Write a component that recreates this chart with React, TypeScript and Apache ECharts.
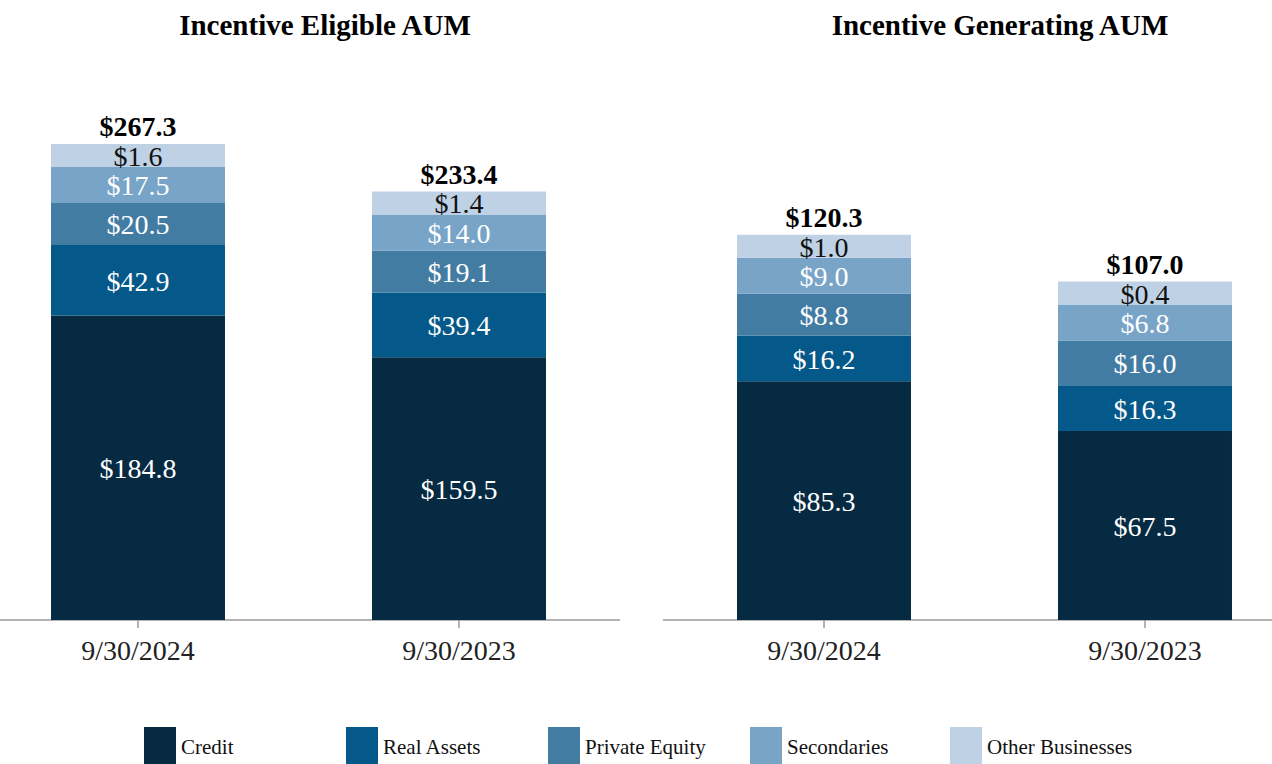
import React, { useEffect, useRef } from 'react';
import * as echarts from 'echarts';

// ---------- data ($ billions) ----------
const TITLES = ['Incentive Eligible AUM', 'Incentive Generating AUM'];
const DATES = ['9/30/2024', '9/30/2023'];
const SEGMENTS = ['Credit', 'Real Assets', 'Private Equity', 'Secondaries', 'Other Businesses'];

const ELIGIBLE_CREDIT = [184.8, 159.5];
const ELIGIBLE_REAL_ASSETS = [42.9, 39.4];
const ELIGIBLE_PRIVATE_EQUITY = [20.5, 19.1];
const ELIGIBLE_SECONDARIES = [17.5, 14.0];
const ELIGIBLE_OTHER = [1.6, 1.4];
const ELIGIBLE_TOTAL = [267.3, 233.4];

const GENERATING_CREDIT = [85.3, 67.5];
const GENERATING_REAL_ASSETS = [16.2, 16.3];
const GENERATING_PRIVATE_EQUITY = [8.8, 16.0];
const GENERATING_SECONDARIES = [9.0, 6.8];
const GENERATING_OTHER = [1.0, 0.4];
const GENERATING_TOTAL = [120.3, 107.0];

// ---------- styling ----------
const COLORS = ['#052a42', '#05598a', '#437ca3', '#78a4c8', '#bfd2e5'];
const LABEL_COLORS = ['#ffffff', '#ffffff', '#ffffff', '#ffffff', '#111111'];
const MIN_H = [30, 30, 42, 36, 23]; // minimum segment height (px) so labels fit
const BAR_RATIO = 0.542;
const FONT = '"Liberation Serif", "Times New Roman", serif';
const Y_MAX = [340, 200];
const GRID_LEFT = [-22.5, 663.5];
const TITLE_X = [325, 1000];
const LEGEND_LEFT = [144, 346, 548, 750, 950];

const STACKS = [
  [ELIGIBLE_CREDIT, ELIGIBLE_REAL_ASSETS, ELIGIBLE_PRIVATE_EQUITY, ELIGIBLE_SECONDARIES, ELIGIBLE_OTHER],
  [GENERATING_CREDIT, GENERATING_REAL_ASSETS, GENERATING_PRIVATE_EQUITY, GENERATING_SECONDARIES, GENERATING_OTHER],
];
const TOTALS = [ELIGIBLE_TOTAL, GENERATING_TOTAL];

function segHeight(stack: number[][], j: number, i: number, unit: number) {
  return Math.max(stack[j][i] * unit, MIN_H[j]);
}

function geometry(api: any, i: number) {
  const p0 = api.coord([i, 0]);
  const unit = p0[1] - api.coord([i, 1])[1];
  const band = Math.abs(api.coord([1, 0])[0] - api.coord([0, 0])[0]);
  return { cx: p0[0], base: p0[1], unit, w: band * BAR_RATIO };
}

function makeSegmentRender(stack: number[][], s: number) {
  return (params: any, api: any) => {
    const i = params.dataIndex;
    const g = geometry(api, i);
    let y = g.base;
    for (let j = 0; j < s; j++) y -= segHeight(stack, j, i, g.unit);
    const v = api.value(1) as number;
    const h = segHeight(stack, s, i, g.unit);
    return {
      type: 'group',
      children: [
        {
          type: 'rect',
          shape: { x: g.cx - g.w / 2, y: y - h, width: g.w, height: h },
          style: { fill: COLORS[s] },
        },
        {
          type: 'text',
          x: g.cx,
          y: y - h / 2 + 1,
          silent: true,
          style: {
            text: '$' + v.toFixed(1),
            fill: LABEL_COLORS[s],
            fontSize: 28,
            fontFamily: FONT,
            align: 'center',
            verticalAlign: 'middle',
          },
        },
      ],
    };
  };
}

function makeTotalRender(stack: number[][]) {
  return (params: any, api: any) => {
    const i = params.dataIndex;
    const g = geometry(api, i);
    let y = g.base;
    for (let j = 0; j < stack.length; j++) y -= segHeight(stack, j, i, g.unit);
    const v = api.value(1) as number;
    return {
      type: 'text',
      x: g.cx,
      y: y - 3,
      silent: true,
      style: {
        text: '$' + v.toFixed(1),
        fill: '#000',
        fontSize: 28,
        fontWeight: 'bold',
        fontFamily: FONT,
        align: 'center',
        verticalAlign: 'bottom',
      },
    };
  };
}

export default function App() {
  const ref = useRef<HTMLDivElement>(null);

  useEffect(() => {
    if (!ref.current) return;
    const chart = echarts.init(ref.current, null, { renderer: 'svg' });

    const series: any[] = [];
    STACKS.forEach((stack, c) => {
      stack.forEach((vals, s) => {
        series.push({
          type: 'custom',
          name: SEGMENTS[s],
          xAxisIndex: c,
          yAxisIndex: c,
          itemStyle: { color: COLORS[s] },
          encode: { x: 0, y: 1 },
          clip: false,
          data: vals.map((v, i) => [i, v]),
          renderItem: makeSegmentRender(stack, s),
        });
      });
      series.push({
        type: 'custom',
        name: 'Total',
        xAxisIndex: c,
        yAxisIndex: c,
        encode: { x: 0, y: 1 },
        clip: false,
        data: TOTALS[c].map((v, i) => [i, v]),
        renderItem: makeTotalRender(stack),
      });
    });

    const option: any = {
      animation: false,
      backgroundColor: '#ffffff',
      title: TITLES.map((t, c) => ({
        text: t,
        left: TITLE_X[c],
        top: 10,
        padding: 0,
        textAlign: 'center',
        textStyle: { fontFamily: FONT, fontSize: 29, fontWeight: 'bold', color: '#000' },
      })),
      legend: SEGMENTS.map((name, s) => ({
        data: [name],
        left: LEGEND_LEFT[s],
        top: 727,
        padding: 0,
        itemWidth: 32,
        itemHeight: 40,
        icon: 'rect',
        selectedMode: false,
        textStyle: { fontFamily: FONT, fontSize: 21, color: '#111' },
      })),
      grid: GRID_LEFT.map((left) => ({
        left,
        width: 642,
        top: 60,
        bottom: 144,
        outerBoundsMode: 'none',
        containLabel: false,
      })),
      xAxis: GRID_LEFT.map((_, c) => ({
        type: 'category',
        gridIndex: c,
        data: DATES,
        axisLine: { show: true, lineStyle: { color: '#9a9a9a', width: 1.5 } },
        axisTick: { show: true, alignWithLabel: true, length: 8, lineStyle: { color: '#9a9a9a', width: 1.5 } },
        axisLabel: { fontFamily: FONT, fontSize: 28, color: '#222', margin: 16 },
      })),
      yAxis: GRID_LEFT.map((_, c) => ({
        type: 'value',
        gridIndex: c,
        min: 0,
        max: Y_MAX[c],
        show: false,
        splitLine: { show: false },
      })),
      series,
    };

    chart.setOption(option);
    return () => chart.dispose();
  }, []);

  return (
    <div
      ref={ref}
      style={{ position: 'fixed', left: 0, top: 0, width: 1272, height: 764, background: '#fff' }}
    />
  );
}
